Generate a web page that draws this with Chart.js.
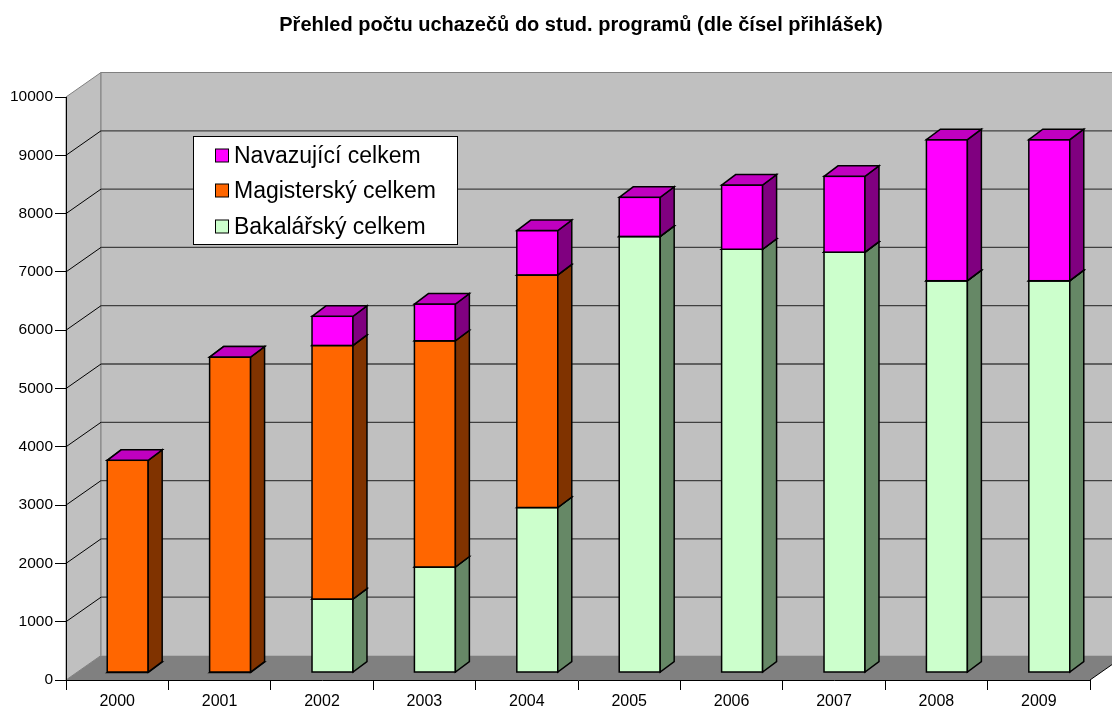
<!DOCTYPE html>
<html>
<head>
<meta charset="utf-8">
<script src="https://cdn.jsdelivr.net/npm/chart.js@4"></script>
<style>
  html, body { margin: 0; padding: 0; background: #fff; }
  #wrap { position: relative; width: 1112px; height: 711px; }
</style>
</head>
<body>
<div id="wrap"><canvas id="chart"></canvas></div>
<script>
const years = ['2000', '2001', '2002', '2003', '2004', '2005', '2006', '2007', '2008', '2009'];
const bakalarsky = [0, 0, 1260, 1810, 2830, 7480, 7260, 7210, 6720, 6720];
const magistersky = [3640, 5410, 4350, 3880, 3990, 0, 0, 0, 0, 0];
const navazujici = [0, 0, 500, 630, 760, 670, 1100, 1300, 2420, 2420];
const seriesNames = ['Bakalářský celkem', 'Magisterský celkem', 'Navazující celkem'];
const yMax = 10000;
const yStep = 1000;
const title = 'Přehled počtu uchazečů do stud. programů (dle čísel přihlášek)';

// front / side / top colours per series
const faceColors = [
  { front: '#CCFFCC', side: '#668866', top: '#99CC99' },
  { front: '#FF6600', side: '#803300', top: '#C04D00' },
  { front: '#FF00FF', side: '#800080', top: '#C000C0' }
];

// fake 3D offsets
const BAR_SHIFT = { x: 10.5, y: -7.5 };   // bar plane vs front plane
const BAR_DEPTH = { x: 14, y: -10.5 };
const WALL = { x: 35, y: -24.5 };

const FONT = '"Liberation Sans", Arial, sans-serif';

const walls = {
  id: 'walls',
  beforeDraw(chart) {
    const { ctx, chartArea: a, scales: { y } } = chart;
    const right = a.right + WALL.x + 40;
    ctx.save();
    // side wall
    ctx.fillStyle = '#c0c0c0';
    ctx.strokeStyle = '#808080';
    ctx.lineWidth = 1;
    ctx.beginPath();
    ctx.moveTo(a.left, a.top);
    ctx.lineTo(a.left + WALL.x, a.top + WALL.y);
    ctx.lineTo(a.left + WALL.x, a.bottom + WALL.y);
    ctx.lineTo(a.left, a.bottom);
    ctx.closePath();
    ctx.fill();
    ctx.stroke();
    // back wall
    ctx.fillRect(a.left + WALL.x, a.top + WALL.y, right, a.bottom - a.top);
    ctx.beginPath();
    ctx.moveTo(a.left + WALL.x, a.bottom + WALL.y);
    ctx.lineTo(a.left + WALL.x, a.top + WALL.y);
    ctx.lineTo(right, a.top + WALL.y);
    ctx.stroke();
    // floor
    ctx.fillStyle = '#808080';
    ctx.beginPath();
    ctx.moveTo(a.left, a.bottom);
    ctx.lineTo(a.left + WALL.x, a.bottom + WALL.y);
    ctx.lineTo(a.right + WALL.x, a.bottom + WALL.y);
    ctx.lineTo(a.right, a.bottom);
    ctx.closePath();
    ctx.fill();
    ctx.strokeStyle = '#000';
    ctx.beginPath();
    ctx.moveTo(a.right, a.bottom);
    ctx.lineTo(a.right + WALL.x, a.bottom + WALL.y);
    ctx.stroke();
    // gridlines
    for (let v = yStep; v <= yMax - yStep; v += yStep) {
      const fy = y.getPixelForValue(v);
      ctx.strokeStyle = '#000';
      ctx.lineWidth = 1;
      ctx.beginPath();
      ctx.moveTo(a.left, fy);
      ctx.lineTo(a.left + WALL.x, fy + WALL.y);
      ctx.stroke();
      ctx.strokeStyle = '#404040';
      ctx.lineWidth = 1.3;
      ctx.beginPath();
      ctx.moveTo(a.left + WALL.x, fy + WALL.y);
      ctx.lineTo(right, fy + WALL.y);
      ctx.stroke();
    }
    ctx.restore();
  },
  beforeDatasetsDraw(chart) {
    chart.ctx.save();
    chart.ctx.translate(BAR_SHIFT.x, BAR_SHIFT.y);
  },
  afterDatasetsDraw(chart) {
    const ctx = chart.ctx;
    const metas = chart.data.datasets.map((d, i) => chart.getDatasetMeta(i));
    ctx.lineWidth = 1.5;
    ctx.strokeStyle = '#000';
    ctx.lineJoin = 'miter';
    for (let i = 0; i < years.length; i++) {
      metas.forEach((meta, ds) => {
        const el = meta.data[i];
        const c = faceColors[ds];
        const l = el.x - el.width / 2, r = el.x + el.width / 2;
        const t = Math.min(el.y, el.base), b = Math.max(el.y, el.base);
        if (b - t > 0.5) {
          ctx.fillStyle = c.front;
          ctx.fillRect(l, t, r - l, b - t);
          ctx.strokeRect(l, t, r - l, b - t);
          ctx.fillStyle = c.side;
          ctx.beginPath();
          ctx.moveTo(r, t);
          ctx.lineTo(r + BAR_DEPTH.x, t + BAR_DEPTH.y);
          ctx.lineTo(r + BAR_DEPTH.x, b + BAR_DEPTH.y);
          ctx.lineTo(r, b);
          ctx.closePath();
          ctx.fill();
          ctx.stroke();
        }
        ctx.fillStyle = c.top;
        ctx.beginPath();
        ctx.moveTo(l, t);
        ctx.lineTo(l + BAR_DEPTH.x, t + BAR_DEPTH.y);
        ctx.lineTo(r + BAR_DEPTH.x, t + BAR_DEPTH.y);
        ctx.lineTo(r, t);
        ctx.closePath();
        ctx.fill();
        ctx.stroke();
      });
    }
    ctx.restore();
  },
  afterDraw(chart) {
    const ctx = chart.ctx;
    ctx.save();
    // title
    ctx.fillStyle = '#000';
    ctx.font = 'bold 20px ' + FONT;
    ctx.textAlign = 'center';
    ctx.textBaseline = 'alphabetic';
    ctx.fillText(title, 581, 31);
    // legend
    ctx.fillStyle = '#fff';
    ctx.fillRect(193.5, 136.5, 264, 108);
    ctx.strokeStyle = '#000';
    ctx.lineWidth = 1;
    ctx.strokeRect(193.5, 136.5, 264, 108);
    ctx.font = '23px ' + FONT;
    ctx.textAlign = 'left';
    ctx.textBaseline = 'middle';
    const rows = [155.5, 190.5, 226.5];
    chart.data.datasets.slice().reverse().forEach((d, k) => {
      const cy = rows[k];
      ctx.fillStyle = d.backgroundColor;
      ctx.fillRect(215.5, cy - 6.5, 13, 13);
      ctx.strokeRect(215.5, cy - 6.5, 13, 13);
      ctx.fillStyle = '#000';
      ctx.fillText(d.label, 234, cy + 1);
    });
    ctx.restore();
  }
};

new Chart(document.getElementById('chart'), {
  type: 'bar',
  data: {
    labels: years,
    datasets: [
      { label: seriesNames[0], data: bakalarsky, backgroundColor: faceColors[0].front },
      { label: seriesNames[1], data: magistersky, backgroundColor: faceColors[1].front },
      { label: seriesNames[2], data: navazujici, backgroundColor: faceColors[2].front }
    ]
  },
  options: {
    responsive: true,
    maintainAspectRatio: false,
    animation: false,
    layout: { padding: { top: 97, right: 22, left: 0, bottom: 0 } },
    datasets: { bar: { categoryPercentage: 1, barPercentage: 0.4, borderWidth: 0 } },
    plugins: {
      legend: { display: false },
      title: { display: false },
      tooltip: { enabled: false }
    },
    scales: {
      x: {
        stacked: true,
        afterFit: (s) => { s.height = 31; },
        grid: { drawOnChartArea: false, tickLength: 10, color: '#000', offset: true },
        border: { color: '#000', width: 1 },
        ticks: { color: '#000', font: { family: FONT, size: 16 }, padding: 2, maxRotation: 0 }
      },
      y: {
        stacked: true,
        min: 0,
        max: yMax,
        afterFit: (s) => { s.width = 66; },
        grid: { drawOnChartArea: false, tickLength: 11, color: '#000' },
        border: { color: '#000', width: 1 },
        ticks: {
          stepSize: yStep,
          color: '#000',
          font: { family: FONT, size: 15.5 },
          padding: 2,
          callback: (v) => String(v)
        }
      }
    }
  },
  plugins: [walls]
});
</script>
</body>
</html>
